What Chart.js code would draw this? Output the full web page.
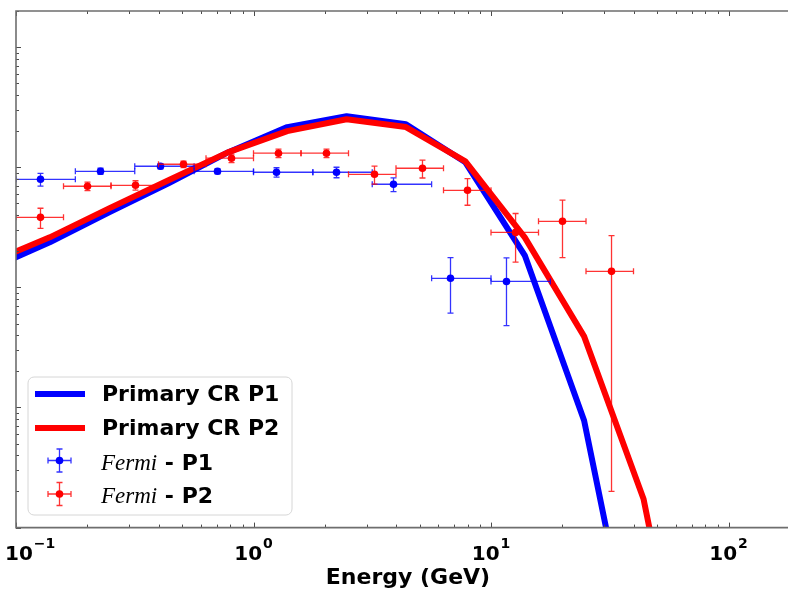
<!DOCTYPE html>
<html>
<head>
<meta charset="utf-8">
<script src="https://cdn.jsdelivr.net/npm/chart.js@4.4.1/dist/chart.umd.min.js"></script>
<style>
  html, body { margin: 0; padding: 0; background: #ffffff; overflow: hidden; }
  canvas { display: block; }
</style>
</head>
<body>
<canvas id="sed" width="800" height="593"></canvas>
<script>
// Model spectra (E^2 dN/dE), sampled every quarter decade in energy (GeV)
const modelEnergy = [0.078, 0.1387, 0.2466, 0.4385, 0.780, 1.387, 2.466, 4.385, 7.80, 13.87, 24.66, 43.85, 77.98];
const primaryP1   = [1.44e-11, 2.37e-11, 4.22e-11, 7.36e-11, 1.33e-10, 2.16e-10, 2.66e-10, 2.28e-10, 1.10e-10, 1.85e-11, 7.79e-13, 3.0e-15, 1.0e-17];
const primaryP2   = [1.62e-11, 2.61e-11, 4.55e-11, 7.79e-11, 1.33e-10, 2.00e-10, 2.51e-10, 2.16e-10, 1.12e-10, 2.61e-11, 3.91e-12, 1.74e-13, 6.4e-16];

// Fermi-LAT fluxes, region P1 (quarter-decade bins)
const fermiP1Energy = [0.1268, 0.2269, 0.4059, 0.7054, 1.250, 2.236, 3.886, 6.753, 11.62];
const fermiP1BinLo  = [0.1, 0.1778, 0.3162, 0.5623, 1.0, 1.778, 3.162, 5.623, 10.0];
const fermiP1BinHi  = [0.1778, 0.3162, 0.5623, 1.0, 1.778, 3.162, 5.623, 10.0, 17.78];
const fermiP1Flux   = [7.94e-11, 9.26e-11, 1.02e-10, 9.26e-11, 9.09e-11, 9.09e-11, 7.22e-11, 1.19e-11, 1.12e-11];
const fermiP1Err    = [9.7e-12, 5.5e-12, 5.0e-12, 4.5e-12, 8.2e-12, 9.1e-12, 9.4e-12, 5.8e-12, 6.4e-12];

// Fermi-LAT fluxes, region P2 (fifth-decade bins)
const fermiP2Energy = [0.1268, 0.2, 0.3186, 0.5073, 0.808, 1.274, 2.029, 3.232, 5.146, 7.963, 12.69, 20.0, 32.17];
const fermiP2BinLo  = [0.1, 0.1585, 0.2512, 0.3981, 0.631, 1.0, 1.585, 2.512, 3.981, 6.31, 10.0, 15.85, 25.12];
const fermiP2BinHi  = [0.1585, 0.2512, 0.3981, 0.631, 1.0, 1.585, 2.512, 3.981, 6.31, 10.0, 15.85, 25.12, 39.81];
const fermiP2Flux   = [3.83e-11, 6.95e-11, 7.08e-11, 1.06e-10, 1.19e-10, 1.31e-10, 1.31e-10, 8.74e-11, 9.81e-11, 6.43e-11, 2.87e-11, 3.55e-11, 1.36e-11];
const fermiP2Err    = [7.3e-12, 5.6e-12, 6.4e-12, 6.4e-12, 9.5e-12, 1.05e-11, 1.05e-11, 1.5e-11, 1.67e-11, 1.6e-11, 1.25e-11, 1.78e-11, 1.34e-11];

// Axis ticks
const xMajorTicks    = [0.1, 1, 10, 100];
const xTickExponents = ['\u22121', '0', '1', '2'];
const yDecades       = [-13, -12, -11, -10, -9];

const BLUE = '#0000ff';
const RED  = '#ff0000';
const FRAME = '#6e6e6e';
const TICK  = '#4a4a4a';
const VIEW_WIDTH = 788;   // visible width of the page

function pointsFrom(energy, flux, lo, hi, err) {
  return energy.map((e, i) => ({
    x: e, y: flux[i],
    xMin: lo ? lo[i] : null, xMax: hi ? hi[i] : null, yErr: err ? err[i] : null
  }));
}

function drawErrorBar(ctx, cx, cy, x0, x1, y0, y1, color, width) {
  const cap = 3;
  ctx.save();
  ctx.strokeStyle = color;
  ctx.lineWidth = width;
  ctx.beginPath();
  ctx.moveTo(x0, cy); ctx.lineTo(x1, cy);
  ctx.moveTo(x0, cy - cap); ctx.lineTo(x0, cy + cap);
  ctx.moveTo(x1, cy - cap); ctx.lineTo(x1, cy + cap);
  ctx.moveTo(cx, y0); ctx.lineTo(cx, y1);
  ctx.moveTo(cx - cap, y0); ctx.lineTo(cx + cap, y0);
  ctx.moveTo(cx - cap, y1); ctx.lineTo(cx + cap, y1);
  ctx.stroke();
  ctx.restore();
}

// Error bars drawn just beneath each scatter dataset's markers
const errorBarPlugin = {
  id: 'errorBars',
  beforeDatasetDraw(chart, args) {
    const ds = chart.data.datasets[args.index];
    if (!ds.errorColor) return;
    const xs = chart.scales.x, ys = chart.scales.y;
    const ctx = chart.ctx;
    const area = chart.chartArea;
    ctx.save();
    ctx.beginPath();
    ctx.rect(area.left, area.top, area.right - area.left, area.bottom - area.top);
    ctx.clip();
    ds.data.forEach(p => {
      const cx = xs.getPixelForValue(p.x);
      const cy = ys.getPixelForValue(p.y);
      const x0 = xs.getPixelForValue(p.xMin);
      const x1 = xs.getPixelForValue(p.xMax);
      const low = p.y - p.yErr;
      const y0 = ys.getPixelForValue(p.y + p.yErr);
      const y1 = low > 0 ? ys.getPixelForValue(low) : area.bottom + 10;
      drawErrorBar(ctx, cx, cy, x0, x1, y0, y1, ds.errorColor, 1.3);
    });
    ctx.restore();
  }
};

// Frame, inward tick marks and x tick labels
const axesPlugin = {
  id: 'axesFrame',
  afterDatasetsDraw(chart) {
    const ctx = chart.ctx;
    const { left, top, right, bottom } = chart.chartArea;
    const xs = chart.scales.x, ys = chart.scales.y;

    ctx.save();
    ctx.strokeStyle = TICK;
    ctx.lineWidth = 1;
    ctx.beginPath();
    // x ticks, top and bottom
    for (let k = -1; k <= 2; k++) {
      for (let m = 1; m <= 9; m++) {
        const v = m * Math.pow(10, k);
        if (v < xs.min || v > xs.max) continue;
        const px = Math.round(xs.getPixelForValue(v)) + 0.5;
        const len = m === 1 ? 5 : 3;
        ctx.moveTo(px, bottom); ctx.lineTo(px, bottom - len);
        ctx.moveTo(px, top); ctx.lineTo(px, top + len);
      }
    }
    // y ticks, left side
    yDecades.forEach(k => {
      for (let m = 1; m <= 9; m++) {
        const v = m * Math.pow(10, k);
        if (v < ys.min || v > ys.max) continue;
        const py = Math.round(ys.getPixelForValue(v)) + 0.5;
        const len = m === 1 ? 5 : 3;
        ctx.moveTo(left, py); ctx.lineTo(left + len, py);
      }
    });
    ctx.stroke();

    // frame
    ctx.strokeStyle = FRAME;
    ctx.lineWidth = 1.6;
    ctx.beginPath();
    ctx.moveTo(right, top); ctx.lineTo(left, top); ctx.lineTo(left, bottom); ctx.lineTo(right, bottom);
    ctx.lineTo(right, top);
    ctx.stroke();

    // x tick labels as 10^n
    ctx.fillStyle = '#000';
    ctx.textBaseline = 'alphabetic';
    ctx.textAlign = 'left';
    const baseFont = 'bold 20px "DejaVu Sans"';
    const expFont = 'bold 14px "DejaVu Sans"';
    const baseY = 560;
    xMajorTicks.forEach((v, i) => {
      const px = xs.getPixelForValue(v);
      ctx.font = baseFont;
      const wb = ctx.measureText('10').width;
      ctx.font = expFont;
      const we = ctx.measureText(xTickExponents[i]).width;
      const total = wb + 1 + we;
      let x0 = px - total / 2;
      if (x0 < 5) x0 = 5;
      if (x0 + total > VIEW_WIDTH - 2) return;
      ctx.font = baseFont;
      ctx.fillText('10', x0, baseY);
      ctx.font = expFont;
      ctx.fillText(xTickExponents[i], x0 + wb + 1, baseY - 12);
    });
    ctx.restore();
  }
};

// Legend box in the lower left of the plot
const legendPlugin = {
  id: 'sedLegend',
  afterDraw(chart) {
    const ctx = chart.ctx;
    const bx = 28, by = 377, bw = 264, bh = 138, r = 6;
    ctx.save();
    ctx.beginPath();
    ctx.moveTo(bx + r, by);
    ctx.lineTo(bx + bw - r, by);
    ctx.arcTo(bx + bw, by, bx + bw, by + r, r);
    ctx.lineTo(bx + bw, by + bh - r);
    ctx.arcTo(bx + bw, by + bh, bx + bw - r, by + bh, r);
    ctx.lineTo(bx + r, by + bh);
    ctx.arcTo(bx, by + bh, bx, by + bh - r, r);
    ctx.lineTo(bx, by + r);
    ctx.arcTo(bx, by, bx + r, by, r);
    ctx.closePath();
    ctx.fillStyle = 'rgba(255,255,255,0.85)';
    ctx.fill();
    ctx.strokeStyle = '#d6d6d6';
    ctx.lineWidth = 1;
    ctx.stroke();

    const sets = chart.data.datasets;
    const boldFont = 'bold 22px "DejaVu Sans"';
    ctx.fillStyle = '#000';
    ctx.textBaseline = 'alphabetic';
    ctx.textAlign = 'left';

    // line entries
    [[sets[0], 394, 401], [sets[1], 428, 435]].forEach(([ds, ly, base]) => {
      ctx.strokeStyle = ds.borderColor;
      ctx.lineWidth = ds.borderWidth;
      ctx.lineCap = 'butt';
      ctx.beginPath();
      ctx.moveTo(35, ly); ctx.lineTo(85, ly);
      ctx.stroke();
      ctx.font = boldFont;
      ctx.fillText(ds.label, 102, base);
    });

    // error bar entries: italic instrument name + bold region
    [[sets[2], 460.5, 470], [sets[3], 494, 503]].forEach(([ds, cy, base]) => {
      drawErrorBar(ctx, 59.5, cy, 48, 71, cy - 11.5, cy + 11.5, ds.errorColor, 1.3);
      ctx.beginPath();
      ctx.arc(59.5, cy, 3.8, 0, Math.PI * 2);
      ctx.fillStyle = ds.pointBackgroundColor;
      ctx.fill();
      const parts = ds.label.split(' - ');
      ctx.fillStyle = '#000';
      ctx.font = 'italic 23px "Liberation Serif"';
      ctx.fillText(parts[0], 101, base);
      const w = ctx.measureText(parts[0]).width;
      ctx.font = boldFont;
      ctx.fillText(' - ' + parts[1], 101 + w, base);
    });
    ctx.restore();
  }
};

const ctx = document.getElementById('sed').getContext('2d');
new Chart(ctx, {
  type: 'line',
  data: {
    datasets: [
      {
        label: 'Primary CR P1',
        data: modelEnergy.map((e, i) => ({ x: e, y: primaryP1[i] })),
        borderColor: BLUE, borderWidth: 6, pointRadius: 0, tension: 0,
        borderJoinStyle: 'round', clip: 0, order: 4
      },
      {
        label: 'Primary CR P2',
        data: modelEnergy.map((e, i) => ({ x: e, y: primaryP2[i] })),
        borderColor: RED, borderWidth: 6, pointRadius: 0, tension: 0,
        borderJoinStyle: 'round', clip: 0, order: 3
      },
      {
        type: 'scatter',
        label: 'Fermi - P1',
        data: pointsFrom(fermiP1Energy, fermiP1Flux, fermiP1BinLo, fermiP1BinHi, fermiP1Err),
        showLine: false, pointRadius: 3.8, pointBorderWidth: 0,
        pointBackgroundColor: BLUE, backgroundColor: BLUE, borderColor: BLUE,
        errorColor: 'rgba(0,0,255,0.8)', order: 2
      },
      {
        type: 'scatter',
        label: 'Fermi - P2',
        data: pointsFrom(fermiP2Energy, fermiP2Flux, fermiP2BinLo, fermiP2BinHi, fermiP2Err),
        showLine: false, pointRadius: 3.8, pointBorderWidth: 0,
        pointBackgroundColor: RED, backgroundColor: RED, borderColor: RED,
        errorColor: 'rgba(255,0,0,0.8)', order: 1
      }
    ]
  },
  options: {
    responsive: false,
    animation: false,
    devicePixelRatio: 1,
    events: [],
    layout: { padding: { left: 16, top: 11, right: 0, bottom: 0 }, autoPadding: false },
    plugins: { legend: { display: false }, tooltip: { enabled: false } },
    scales: {
      x: {
        type: 'logarithmic', min: 0.1, max: 200, position: 'bottom',
        grid: { display: false, drawTicks: false },
        border: { display: false },
        ticks: { display: false },
        title: {
          display: true, text: 'Energy (GeV)', color: '#000',
          font: { family: 'DejaVu Sans', weight: 'bold', size: 22 },
          padding: { top: 37, bottom: 2 }
        }
      },
      y: {
        type: 'logarithmic', min: 1e-13, max: 2e-9, display: false
      }
    }
  },
  plugins: [errorBarPlugin, axesPlugin, legendPlugin]
});
</script>
</body>
</html>
